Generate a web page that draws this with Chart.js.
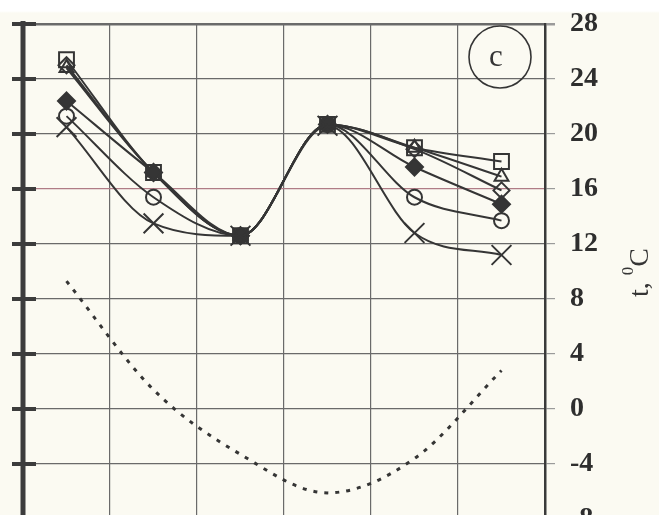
<!DOCTYPE html>
<html>
<head>
<meta charset="utf-8">
<script src="https://cdn.jsdelivr.net/npm/chart.js@4"></script>
<style>
  html, body { margin: 0; padding: 0; overflow: hidden; }
  body { background: linear-gradient(#ffffff 0px, #ffffff 11px, #fbfaf2 13px); width: 659px; height: 515px; }
  #wrap { position: absolute; left: 0; top: 0; width: 659px; height: 540px; }
</style>
</head>
<body>
<div id="wrap"><canvas id="chart" width="659" height="540"></canvas></div>
<script>
// columns along the (unlabelled) x axis
const categories = ["1", "2", "3", "4", "5", "6"]
const yTicks = [28, 24, 20, 16, 12, 8, 4, 0, -4, -8]

// indoor temperatures, one list per marker type
const squareVals = [25.4, 17.2, 12.6, 20.7, 19.0, 18.0]
const triangleVals = [24.8, 17.2, 12.6, 20.7, 19.0, 16.9]
const openDiamondVals = [25.0, 17.2, 12.6, 20.7, 18.9, 15.9]
const diamondVals = [22.4, 17.2, 12.6, 20.7, 17.6, 14.9]
const circleVals = [21.3, 15.4, 12.6, 20.7, 15.4, 13.7]
const crossVals = [20.5, 13.5, 12.6, 20.6, 12.8, 11.2]
// outdoor temperature (dotted)
const outdoorVals = [9.3, 1.4, -3.3, -6.1, -3.6, 2.8]

const INK = "#353535"
const SERIF = "'Liberation Serif', 'Times New Roman', serif"

function series(data, style, radius, fill) {
  return {
    data: data,
    borderColor: INK,
    borderWidth: 2,
    pointStyle: style,
    pointRadius: radius,
    pointBorderWidth: 2,
    pointBorderColor: INK,
    pointBackgroundColor: fill || "rgba(0,0,0,0)",
    cubicInterpolationMode: "monotone",
  }
}

// left heavy axis, circled letter and rotated unit label
const decor = {
  id: "decor",
  afterDraw(chart) {
    const { ctx, chartArea: a } = chart
    const y = chart.scales.y
    ctx.save()
    ctx.strokeStyle = "#3c3c3c"
    ctx.lineWidth = 5
    ctx.beginPath()
    ctx.moveTo(a.left, a.top - 3)
    ctx.lineTo(a.left, a.bottom)
    ctx.stroke()
    ctx.lineWidth = 4
    ctx.beginPath()
    y.ticks.forEach(t => {
      const py = y.getPixelForValue(t.value)
      ctx.moveTo(a.left - 11, py)
      ctx.lineTo(a.left + 13, py)
    })
    ctx.stroke()

    // circled "c"
    const cx = a.right - 45, cy = a.top + 33
    ctx.lineWidth = 1.6
    ctx.strokeStyle = INK
    ctx.beginPath()
    ctx.arc(cx, cy, 31, 0, Math.PI * 2)
    ctx.stroke()
    ctx.fillStyle = INK
    ctx.font = "31px " + SERIF
    ctx.textAlign = "center"
    ctx.textBaseline = "middle"
    ctx.fillText("c", cx - 4, cy + 1)

    // "t, 0C" reading bottom to top
    ctx.translate(641, (a.top + a.bottom) / 2 + 1)
    ctx.rotate(-Math.PI / 2)
    ctx.textAlign = "left"
    ctx.textBaseline = "middle"
    const big = "28px " + SERIF, small = "17px " + SERIF
    ctx.font = big
    const w1 = ctx.measureText("t, ").width
    const w3 = ctx.measureText("C").width
    ctx.font = small
    const w2 = ctx.measureText("0").width
    let x = -(w1 + w2 + w3) / 2
    ctx.font = big
    ctx.fillText("t, ", x, 0)
    x += w1
    ctx.font = small
    ctx.fillText("0", x, -12)
    x += w2
    ctx.font = big
    ctx.fillText("C", x, 0)
    ctx.restore()
  },
}

new Chart(document.getElementById("chart"), {
  type: "line",
  data: {
    labels: categories,
    datasets: [
      series(crossVals, "crossRot", 14),
      series(circleVals, "circle", 7.5),
      series(diamondVals, "rectRot", 8.5, INK),
      series(openDiamondVals, "rectRot", 8),
      series(triangleVals, "triangle", 8),
      series(squareVals, "rect", 10.5),
      {
        data: outdoorVals,
        borderColor: INK,
        borderWidth: 3,
        borderDash: [4, 7],
        pointRadius: 0,
        cubicInterpolationMode: "monotone",
      },
    ],
  },
  options: {
    responsive: false,
    animation: false,
    layout: { padding: { left: 23, top: 24, bottom: 21, right: 0 } },
    plugins: { legend: { display: false }, tooltip: { enabled: false } },
    scales: {
      x: {
        type: "category",
        offset: true,
        grid: { offset: true, color: "#6a6a6a", lineWidth: 1.2, drawTicks: false },
        border: { display: false },
        ticks: { display: false },
        afterFit(scale) { scale.height = 0 },
      },
      y: {
        position: "right",
        min: -8,
        max: 28,
        afterBuildTicks(scale) { scale.ticks = yTicks.map(v => ({ value: v })) },
        afterFit(scale) {
          scale.width = 114
          scale.paddingTop = 0
          scale.paddingBottom = 0
        },
        grid: {
          color(c) { return c.tick && c.tick.value === 16 ? "#b07c86" : "#6a6a6a" },
          lineWidth(c) { return c.tick && c.tick.value === 28 ? 2.5 : 1.2 },
          tickColor: "#9a9a9a",
          tickLength: 10,
        },
        border: { color: "#3a3a3a", width: 2.5 },
        ticks: {
          padding: 15,
          color: "#2e2e2e",
          font: { family: "'Liberation Serif', serif", size: 28, weight: "bold" },
        },
      },
    },
  },
  plugins: [decor],
})
</script>
</body>
</html>
